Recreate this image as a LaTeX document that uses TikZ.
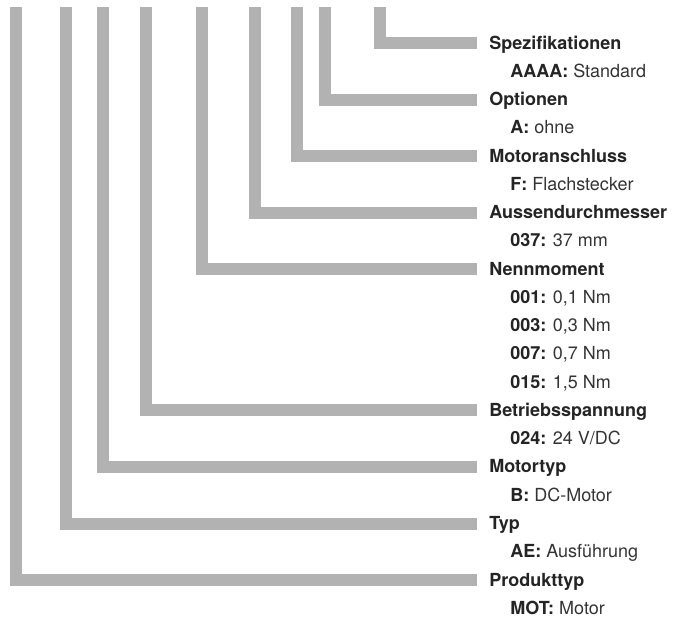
\documentclass[tikz,border=0pt]{standalone}
\usepackage{fontspec}
\setmainfont{TeX Gyre Heros}
\usetikzlibrary{positioning}
\definecolor{bargray}{RGB}{178,178,178}
\definecolor{txtdark}{RGB}{36,36,36}
\definecolor{txtlight}{RGB}{52,52,52}
\newcommand{\Code}[1]{\textbf{\color{txtdark}#1}}
\tikzset{
    bar/.style={draw=bargray, line width=9pt},
    heading/.style={anchor=west, inner xsep=9pt, inner ysep=0pt, text height=9pt, text depth=0pt,
      font=\fontsize{13.5}{16}\selectfont\bfseries, text=txtdark},
    value/.style={anchor=west, inner sep=0pt, text height=9pt, text depth=0pt,
      font=\fontsize{13.5}{16}\selectfont, text=txtlight},
}

\begin{document}
\begin{tikzpicture}[x=0.75pt, y=-0.75pt]
    \useasboundingbox (0,0) rectangle (673,621);

    % headings, bars end at their west anchor
    \node[heading] (spez) at (477,43.0) {Spezifikationen};
    \node[heading] (opt)  at (477,99.5) {Optionen};
    \node[heading] (anschl) at (477,156.1) {Motoranschluss};
    \node[heading] (durchm) at (477,212.6) {Aussendurchmesser};
    \node[heading] (nenn) at (477,269.1) {Nennmoment};
    \node[heading] (spann) at (477,410.4) {Betriebsspannung};
    \node[heading] (mtyp) at (477,466.9) {Motortyp};
    \node[heading] (typ)  at (477,523.5) {Typ};
    \node[heading] (prod) at (477,580.0) {Produkttyp};

    % codes and values
    \node[value] (spez-a)  at (510,71.3)  {\Code{AAAA:} Standard};
    \node[value] (opt-a)   at (510,127.8) {\Code{A:} ohne};
    \node[value] (anschl-a) at (510,184.3) {\Code{F:} Flachstecker};
    \node[value] (durchm-a) at (510,240.8) {\Code{037:} 37 mm};
    \node[value] (nenn-a)  at (510,297.4) {\Code{001:} 0,1 Nm};
    \node[value] (nenn-b)  at (510,325.6) {\Code{003:} 0,3 Nm};
    \node[value] (nenn-c)  at (510,353.9) {\Code{007:} 0,7 Nm};
    \node[value] (nenn-d)  at (510,382.2) {\Code{015:} 1,5 Nm};
    \node[value] (spann-a) at (510,438.7) {\Code{024:} 24 V/DC};
    \node[value] (mtyp-a)  at (510,495.2) {\Code{B:} DC-Motor};
    \node[value] (typ-a)   at (510,551.7) {\Code{AE:} Ausführung};
    \node[value] (prod-a)  at (510,608.3) {\Code{MOT:} Motor};

    % top ends of the bars
    \coordinate (t-prod)   at (16,7);
    \coordinate (t-typ)    at (66,7);
    \coordinate (t-mtyp)   at (103,7);
    \coordinate (t-spann)  at (146,7);
    \coordinate (t-nenn)   at (202,7);
    \coordinate (t-durchm) at (255,7);
    \coordinate (t-anschl) at (297,7);
    \coordinate (t-opt)    at (325,7);
    \coordinate (t-spez)   at (380,7);

    \draw[bar] (t-spez) |- (spez.west);
    \draw[bar] (t-opt) |- (opt.west);
    \draw[bar] (t-anschl) |- (anschl.west);
    \draw[bar] (t-durchm) |- (durchm.west);
    \draw[bar] (t-nenn) |- (nenn.west);
    \draw[bar] (t-spann) |- (spann.west);
    \draw[bar] (t-mtyp) |- (mtyp.west);
    \draw[bar] (t-typ) |- (typ.west);
    \draw[bar] (t-prod) |- (prod.west);
\end{tikzpicture}
\end{document}
